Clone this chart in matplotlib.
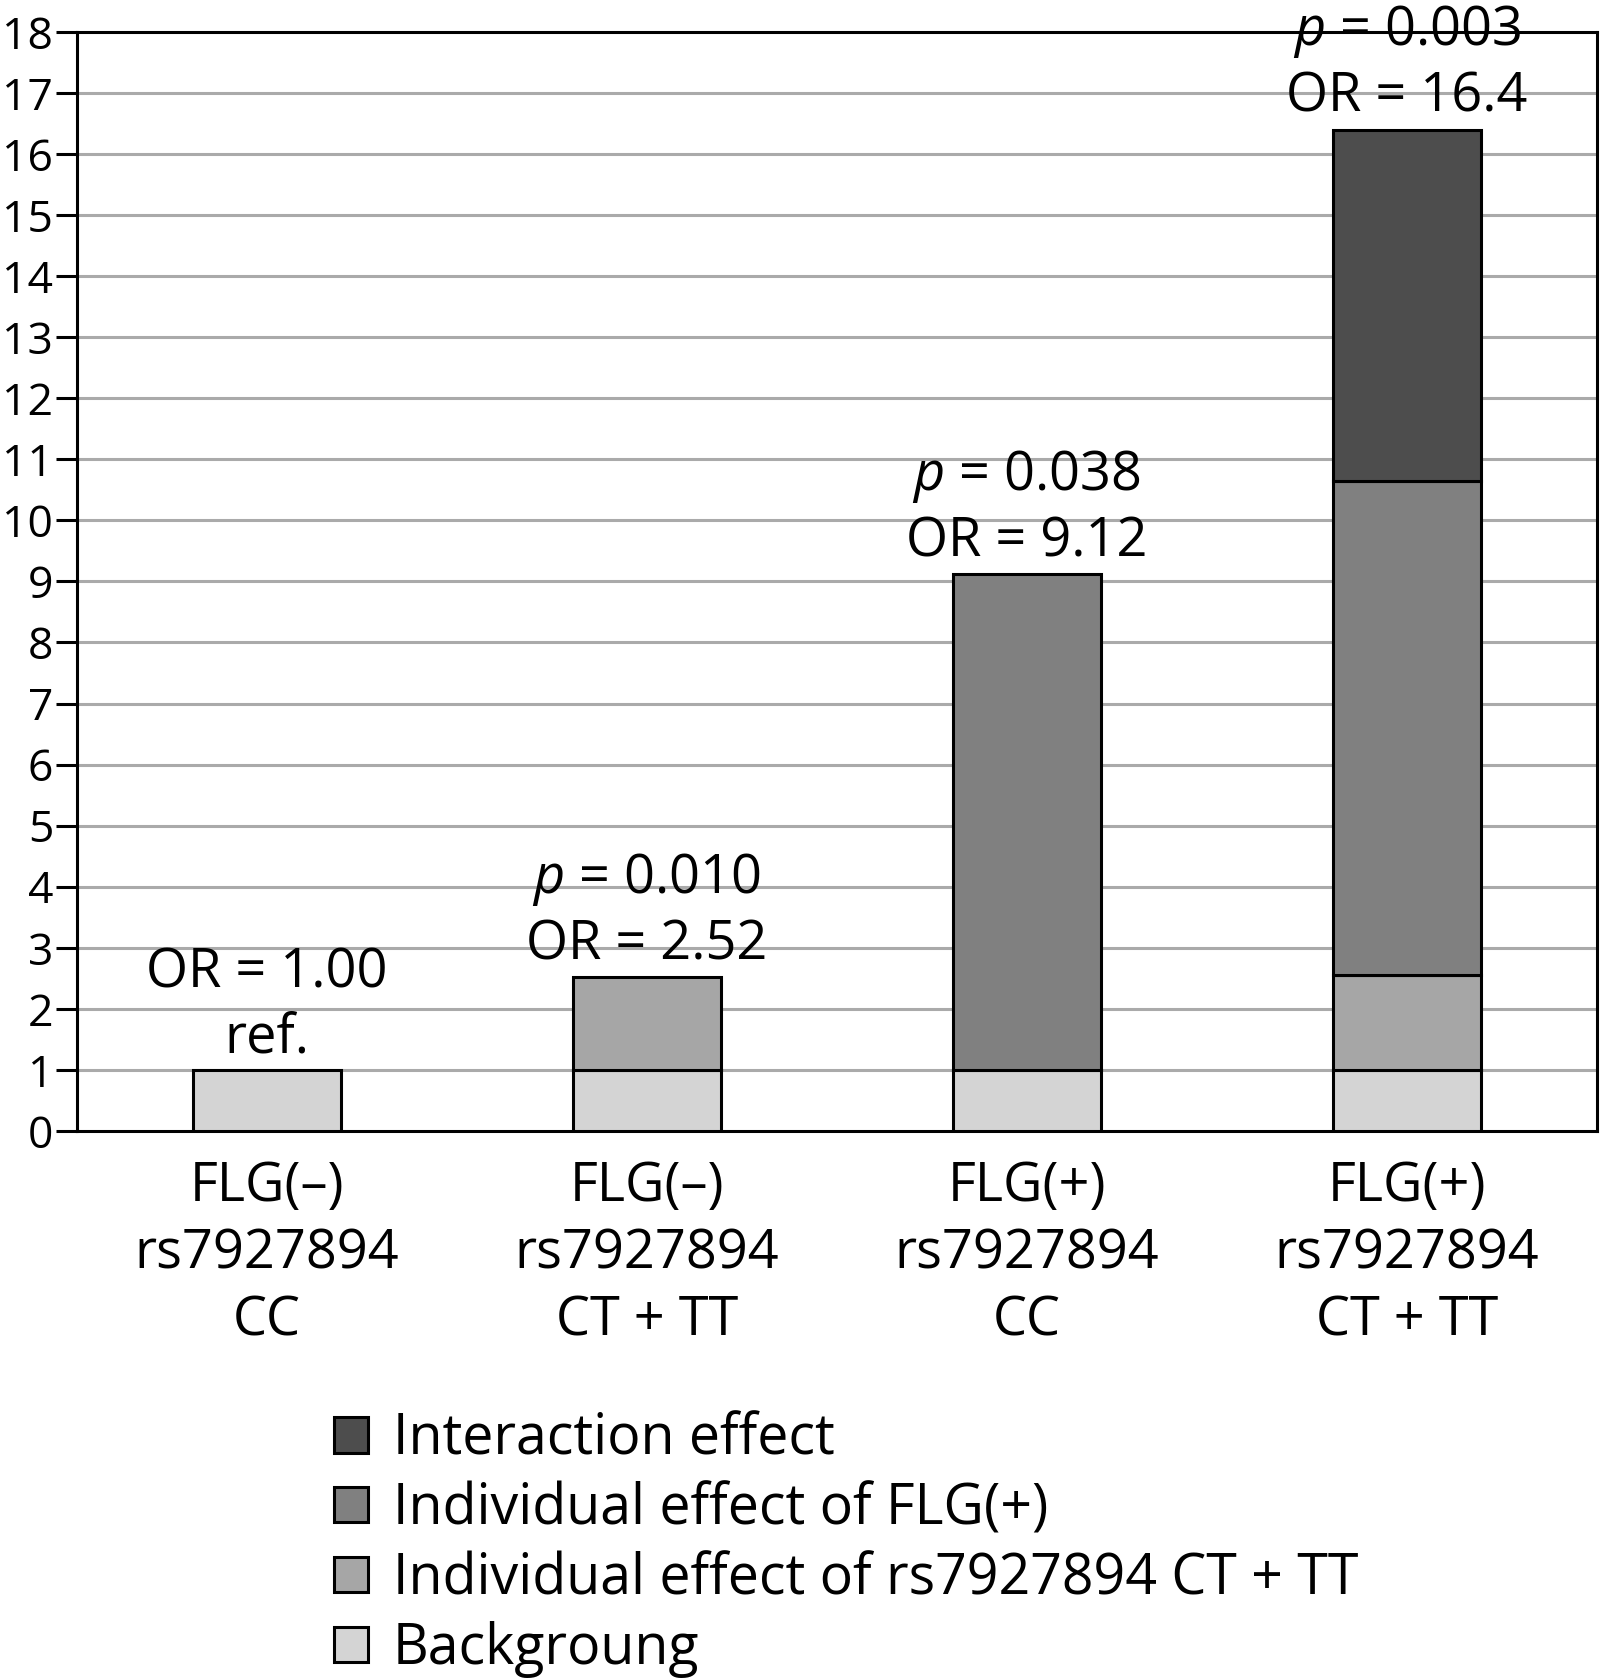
import numpy as np
import matplotlib
matplotlib.use("Agg")
import matplotlib.pyplot as plt

# data
groups = ["FLG(–)\nrs7927894\nCC", "FLG(–)\nrs7927894\nCT + TT",
          "FLG(+)\nrs7927894\nCC", "FLG(+)\nrs7927894\nCT + TT"]
background = [1.0, 1.0, 1.0, 1.0]
rs_effect = [0.0, 1.52, 0.0, 1.55]
flg_effect = [0.0, 0.0, 8.12, 8.09]
interaction = [0.0, 0.0, 0.0, 5.76]
annotations = ["OR = 1.00\nref.", "$p$ = 0.010\nOR = 2.52",
               "$p$ = 0.038\nOR = 9.12", "$p$ = 0.003\nOR = 16.4"]
series_names = ["Backgroung", "Individual effect of rs7927894 CT + TT",
                "Individual effect of FLG(+)", "Interaction effect"]
colors = ["#d4d4d4", "#a6a6a6", "#808080", "#4d4d4d"]

plt.rcParams['font.family'] = ['Open Sans', 'DejaVu Sans']
plt.rcParams['mathtext.fontset'] = 'custom'
plt.rcParams['mathtext.it'] = 'Open Sans:italic'
plt.rcParams['mathtext.rm'] = 'Open Sans'

fig = plt.figure(figsize=(16, 16.78), dpi=100)
ax = fig.add_axes([0.048, 0.326, 0.950, 0.655])

x = np.arange(len(groups)) + 0.5
width = 0.39
layers = [background, rs_effect, flg_effect, interaction]
bottom = np.zeros(len(groups))
handles = []
for vals, c, name in zip(layers, colors, series_names):
    vals = np.array(vals)
    mask = vals > 0
    b = ax.bar(x[mask], vals[mask], width, bottom=bottom[mask], color=c,
               edgecolor="black", linewidth=2.2, zorder=3, label=name)
    handles.append(b)
    bottom += vals

totals = bottom
for xi, t, txt in zip(x, totals, annotations):
    ax.text(xi, t + 0.08, txt, ha="center", va="bottom", fontsize=39,
            linespacing=1.22, zorder=4)

ax.set_xlim(0, 4)
ax.set_ylim(0, 18)
ax.set_yticks(range(0, 19))
ax.tick_params(axis="y", length=15, width=2.2, labelsize=32, pad=2)
ax.set_xticks(x)
ax.set_xticklabels(groups, fontsize=39, linespacing=1.3)
ax.tick_params(axis="x", length=0, pad=20)
for yv in range(1, 18):
    ax.axhline(yv, color="#aaaaaa", linewidth=2.2, zorder=1)
for s in ax.spines.values():
    s.set_linewidth(2.2)
    s.set_color("black")

leg = fig.legend(handles[::-1], series_names[::-1], loc="upper left",
                 bbox_to_anchor=(0.195, 0.172), frameon=False, fontsize=40,
                 handlelength=0.6, handleheight=0.6, handletextpad=0.45,
                 labelspacing=0.23, borderaxespad=0)

fig.savefig("out.png", dpi=100)
